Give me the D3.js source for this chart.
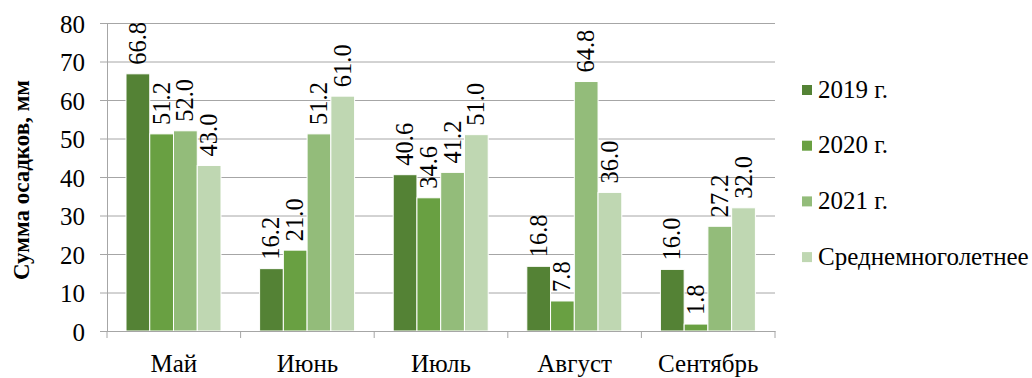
<!DOCTYPE html>
<html>
<head>
<meta charset="utf-8">
<script src="https://cdn.jsdelivr.net/npm/d3@7"></script>
<style>
  html, body { margin: 0; padding: 0; background: #fff; }
  svg { display: block; }
</style>
</head>
<body>
<svg id="chart" width="1032" height="378"></svg>
<script>
// Monthly precipitation totals, mm
const months = ["Май", "Июнь", "Июль", "Август", "Сентябрь"];
const seriesNames = ["2019 г.", "2020 г.", "2021 г.", "Среднемноголетнее"];
const v2019 = [66.8, 16.2, 40.6, 16.8, 16.0];
const v2020 = [51.2, 21.0, 34.6, 7.8, 1.8];
const v2021 = [52.0, 51.2, 41.2, 64.8, 27.2];
const vAvg  = [43.0, 61.0, 51.0, 36.0, 32.0];
const yTicks = [0, 10, 20, 30, 40, 50, 60, 70, 80];
const colors = ["#548235", "#69a042", "#93bc7a", "#bfd7b2"];

const seriesValues = [v2019, v2020, v2021, vAvg];
const FONT = "Liberation Serif";

const svg = d3.select("#chart");
const plotLeft = 107, plotRight = 775, plotTop = 23, plotBottom = 331;

const x = d3.scaleBand().domain(months).range([plotLeft, plotRight]).padding(0);
const xInner = d3.scaleBand().domain(seriesNames)
  .range([19, x.bandwidth() - 19.6]).padding(0);
const y = d3.scaleLinear().domain([0, 80]).range([plotBottom, plotTop]);

// horizontal gridlines + y ticks
const yAxis = d3.axisLeft(y).tickValues(yTicks).tickSize(-(plotRight - plotLeft)).tickSizeOuter(0).tickPadding(22);
const gy = svg.append("g").attr("transform", `translate(${plotLeft},0)`).call(yAxis)
  .attr("font-family", null).attr("font-size", null);
gy.select(".domain").attr("stroke", "#a6a6a6");
gy.selectAll(".tick line").attr("stroke", "#a6a6a6").attr("x1", -7);
gy.selectAll(".tick text").style("font-family", FONT).style("font-size", "25px")
  .attr("dy", "0.36em").attr("fill", "#000");

// bars
const groups = svg.append("g").selectAll("g")
  .data(months)
  .join("g")
  .attr("transform", d => `translate(${x(d)},0)`);

groups.each(function(m, i) {
  const g = d3.select(this);
  const rows = seriesNames.map((s, k) => ({ s, k, v: seriesValues[k][i] }));
  g.selectAll("rect").data(rows).join("rect")
    .attr("x", d => xInner(d.s))
    .attr("width", xInner.bandwidth())
    .attr("y", d => y(d.v))
    .attr("height", d => y(0) - y(d.v))
    .attr("fill", d => colors[d.k])
    .attr("stroke", "#fff")
    .attr("stroke-width", 1);
  g.selectAll("text.lbl").data(rows).join("text")
    .attr("class", "lbl")
    .attr("transform", d => `translate(${xInner(d.s) + xInner.bandwidth() / 2 + 8},${y(d.v) - 9}) rotate(-90)`)
    .attr("text-anchor", "start")
    .style("font-family", FONT)
    .style("font-size", "24.5px")
    .text(d => d3.format(".1f")(d.v));
});

// x axis
const xAxis = d3.axisBottom(x).tickSize(0).tickPadding(41);
const gx = svg.append("g").attr("transform", `translate(0,${plotBottom})`).call(xAxis)
  .attr("font-family", null).attr("font-size", null);
gx.select(".domain").attr("stroke", "#a6a6a6");
gx.selectAll(".tick text").style("font-family", FONT).style("font-size", "25px")
  .attr("fill", "#000").attr("dy", "0");
// category boundary ticks
svg.append("g").selectAll("line")
  .data(months.map(m => x(m)).concat([plotRight]))
  .join("line")
  .attr("x1", d => d).attr("x2", d => d)
  .attr("y1", plotBottom).attr("y2", plotBottom + 7)
  .attr("stroke", "#a6a6a6");

// y axis title
svg.append("text")
  .attr("transform", `translate(29,${(plotTop + plotBottom) / 2 + 3}) rotate(-90)`)
  .attr("text-anchor", "middle")
  .style("font-family", FONT)
  .style("font-size", "23px")
  .style("font-weight", "bold")
  .text("Сумма осадков, мм");

// legend
const legend = svg.append("g").selectAll("g")
  .data(seriesNames)
  .join("g")
  .attr("transform", (d, i) => `translate(802,${90 + i * 55.7})`);
legend.append("rect").attr("x", 0).attr("y", -5).attr("width", 10).attr("height", 10)
  .attr("fill", (d, i) => colors[i]);
legend.append("text").attr("x", 16).attr("y", 7.5)
  .style("font-family", FONT)
  .style("font-size", "25px").text(d => d);
</script>
</body>
</html>
